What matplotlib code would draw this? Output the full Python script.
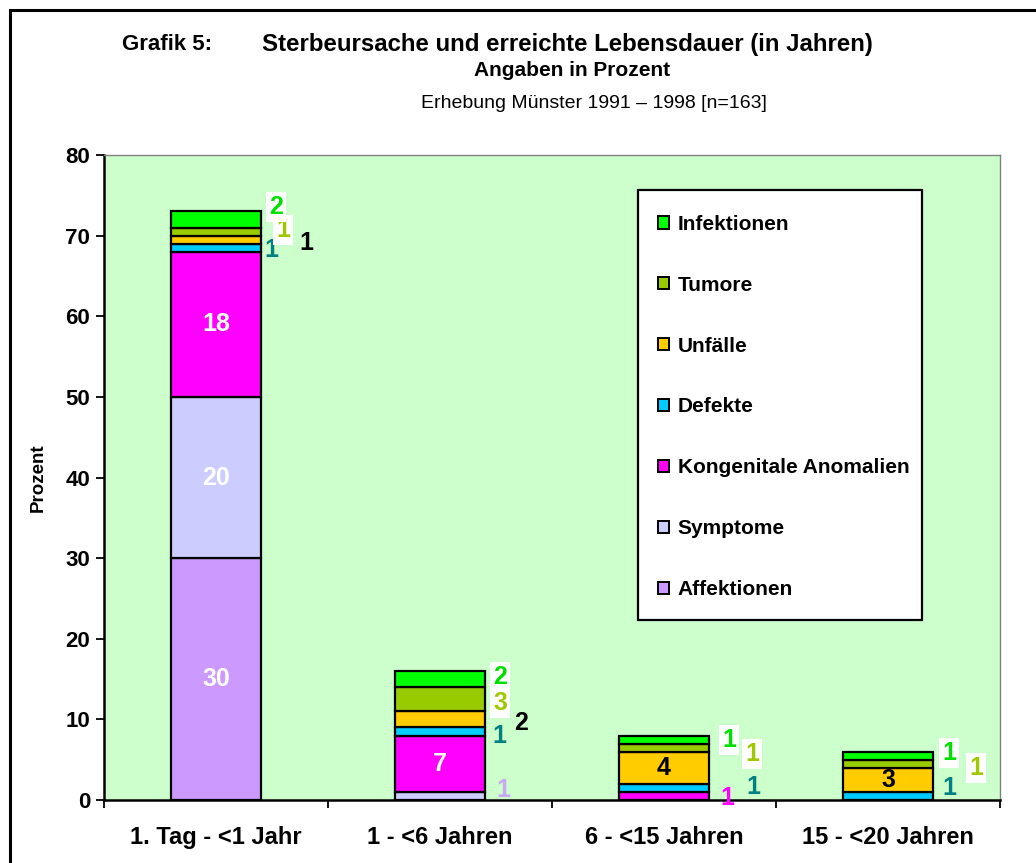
import matplotlib
matplotlib.use("Agg")
import matplotlib.pyplot as plt
from matplotlib.patches import Rectangle, Patch
import numpy as np

plt.rcParams['font.family'] = ['Liberation Sans', 'DejaVu Sans']

categories = ['1. Tag - <1 Jahr', '1 - <6 Jahren', '6 - <15 Jahren', '15 - <20 Jahren']
series_names = ['Affektionen', 'Symptome', 'Kongenitale Anomalien', 'Defekte',
                'Unfälle', 'Tumore', 'Infektionen']
affektionen = [30, 0, 0, 0]
symptome = [20, 1, 0, 0]
kongenitale = [18, 7, 1, 0]
defekte = [1, 1, 1, 1]
unfaelle = [1, 2, 4, 3]
tumore = [1, 3, 1, 1]
infektionen = [2, 2, 1, 1]
yticks = [0, 10, 20, 30, 40, 50, 60, 70, 80]

values = [affektionen, symptome, kongenitale, defekte, unfaelle, tumore, infektionen]
bar_colors = ['#CC99FF', '#CCCCFF', '#FF00FF', '#00CCFF', '#FFCC00', '#99CC00', '#00FF00']
label_colors = ['#CC99FF', '#C6A8F5', '#FF00FF', '#008080', '#000000', '#A0C800', '#00E000']

# labels drawn inside the segment: (category index, series index) -> text colour
inside = {(0, 0): 'white', (0, 1): 'white', (0, 2): 'white', (1, 2): 'white',
          (2, 4): 'black', (3, 4): 'black'}
# outside labels: offset in pixels from segment centre (dx, dy up)
outside = {
    (0, 6): (60, 13), (0, 5): (67, 2), (0, 4): (90, -3), (0, 3): (55, -2),
    (1, 6): (60, 2), (1, 5): (60, -4), (1, 4): (81, -4), (1, 3): (59, -5), (1, 1): (63, 6),
    (2, 6): (65, 0), (2, 5): (88, -6), (2, 3): (89, 1), (2, 2): (63, -2),
    (3, 6): (61, 3), (3, 5): (88, -4), (3, 3): (61, 8),
}
boxed = {5, 6}

W, H = 1036, 863
fig = plt.figure(figsize=(W / 100, H / 100), dpi=100)
fig.patch.set_facecolor('white')
ax = fig.add_axes([104 / W, 1 - 800 / H, 896 / W, 645 / H])
ax.set_facecolor('#CCFFCC')

x = np.arange(len(categories))
bottom = np.zeros(len(categories))
for si, (name, vals, col) in enumerate(zip(series_names, values, bar_colors)):
    vals = np.array(vals, dtype=float)
    ax.bar(x, vals, width=0.405, bottom=bottom, color=col, edgecolor='black',
           linewidth=1.6, label=name, zorder=3)
    for ci in range(len(categories)):
        v = vals[ci]
        if v <= 0:
            continue
        yc = bottom[ci] + v / 2
        txt = f'{int(v)}'
        if (ci, si) in inside:
            ax.text(x[ci], yc, txt, ha='center', va='center', fontsize=18,
                    fontweight='bold', color=inside[(ci, si)], zorder=5)
        elif (ci, si) in outside:
            dx, dy = outside[(ci, si)]
            kw = {}
            if si in boxed:
                kw['bbox'] = dict(boxstyle='square,pad=0.12', facecolor='white',
                                  edgecolor='none')
            ax.annotate(txt, (x[ci], yc), xytext=(dx * 0.72, dy * 0.72),
                        textcoords='offset points', ha='center', va='center',
                        fontsize=18, fontweight='bold', color=label_colors[si],
                        zorder=6, **kw)
    bottom += vals

ax.set_xlim(-0.5, len(categories) - 0.5)
ax.set_ylim(0, 80)
ax.set_yticks(yticks)
ax.set_yticklabels([str(t) for t in yticks], fontsize=16, fontweight='bold')
ax.set_xticks(np.arange(len(categories) + 1) - 0.5)
ax.set_xticklabels([])
ax.set_xticks(x, minor=True)
ax.set_xticklabels(categories, minor=True, fontsize=17, fontweight='bold')
ax.tick_params(axis='x', which='minor', length=0, pad=19)
ax.tick_params(axis='x', which='major', length=6, width=1.3, direction='out')
ax.tick_params(axis='y', length=6, width=1.3, direction='out', pad=4)
for s in ['left', 'bottom']:
    ax.spines[s].set_linewidth(1.8)
    ax.spines[s].set_color('black')
for s in ['top', 'right']:
    ax.spines[s].set_linewidth(1.0)
    ax.spines[s].set_color('#808080')
ax.set_ylabel('Prozent', fontsize=13.5, fontweight='bold', labelpad=13)

# legend box
lx0, lx1 = (638 - 104) / 896, (922 - 104) / 896
ly0, ly1 = (800 - 620) / 645, (800 - 190) / 645
ax.add_patch(Rectangle((lx0, ly0), lx1 - lx0, ly1 - ly0, transform=ax.transAxes,
                       facecolor='white', edgecolor='black', linewidth=1.6, zorder=7))
handles = [Patch(facecolor=c, edgecolor='black', linewidth=1.4)
           for c in bar_colors][::-1]
leg = ax.legend(handles, series_names[::-1], loc='upper left',
                bbox_to_anchor=(lx0 - 0.003, ly1 - 0.003), frameon=False,
                prop={'size': 15, 'weight': 'bold'}, handlelength=0.53,
                handleheight=0.53, handletextpad=0.4, labelspacing=2.01,
                borderpad=0.6)
leg.set_zorder(8)

# titles
fig.text(122 / W, 1 - 44 / H, 'Grafik 5:', fontsize=16, fontweight='bold',
         ha='left', va='center')
fig.text(262 / W, 1 - 44 / H, 'Sterbeursache und erreichte Lebensdauer (in Jahren)',
         fontsize=17.3, fontweight='bold', ha='left', va='center')
fig.text(572 / W, 1 - 71 / H, 'Angaben in Prozent', fontsize=15,
         fontweight='bold', ha='center', va='center')
fig.text(594 / W, 1 - 104 / H, 'Erhebung Münster 1991 – 1998 [n=163]',
         fontsize=14, ha='center', va='center')

# outer frame
fig.add_artist(Rectangle((10 / W, -0.1), 1.2, 1.1 - 10 / H, transform=fig.transFigure,
                         fill=False, edgecolor='black', linewidth=2.2))

fig.savefig('out.png', dpi=100)
